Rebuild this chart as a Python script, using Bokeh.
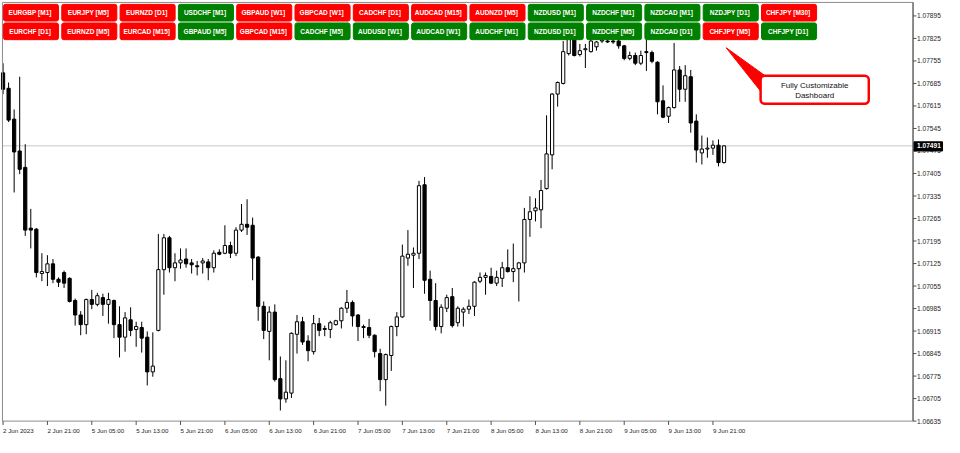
from bokeh.plotting import figure
from bokeh.models import Range1d, ColumnDataSource
from bokeh.core.properties import value
from bokeh.embed import file_html
from bokeh.resources import INLINE

# ---------------- data (hourly candles) ----------------
open_ = [1.07718, 1.07670, 1.07574, 1.07475, 1.07424, 1.07235, 1.07232, 1.07094, 1.07097, 1.07124,
         1.07076, 1.07097, 1.07079, 1.07010, 1.06965, 1.06935, 1.07013, 1.06998, 1.07019, 1.06998,
         1.07010, 1.06935, 1.06896, 1.06950, 1.06920, 1.06926, 1.06896, 1.06788, 1.06917, 1.07106,
         1.07205, 1.07112, 1.07127, 1.07139, 1.07127, 1.07118, 1.07127, 1.07130, 1.07112, 1.07160,
         1.07157, 1.07181, 1.07157, 1.07229, 1.07247, 1.07244, 1.07145, 1.06992, 1.06914, 1.06974,
         1.06767, 1.06704, 1.06722, 1.06905, 1.06944, 1.06884, 1.06851, 1.06938, 1.06920, 1.06920,
         1.06935, 1.06947, 1.06986, 1.07004, 1.06965, 1.06929, 1.06926, 1.06902, 1.06845, 1.06764,
         1.06839, 1.06929, 1.06959, 1.07142, 1.07151, 1.07157, 1.07370, 1.07076, 1.07010, 1.06929,
         1.06986, 1.07022, 1.06941, 1.06974, 1.06983, 1.06992, 1.07070, 1.07082, 1.07085, 1.07064,
         1.07079, 1.07112, 1.07100, 1.07109, 1.07127, 1.07262, 1.07289, 1.07292, 1.07358, 1.07463,
         1.07652, 1.07685, 1.07778, 1.07823, 1.07775, 1.07790, 1.07784, 1.07799, 1.07817, 1.07817,
         1.07817, 1.07817, 1.07802, 1.07763, 1.07772, 1.07748, 1.07784, 1.07781, 1.07751, 1.07631,
         1.07583, 1.07610, 1.07727, 1.07667, 1.07706, 1.07568, 1.07469, 1.07481, 1.07484, 1.07493,
         1.07439]
high = [1.07748, 1.07688, 1.07604, 1.07706, 1.07496, 1.07295, 1.07235, 1.07157, 1.07151, 1.07139,
        1.07082, 1.07103, 1.07082, 1.07016, 1.06977, 1.07016, 1.07043, 1.07034, 1.07031, 1.07034,
        1.07013, 1.06992, 1.06974, 1.06989, 1.06944, 1.06944, 1.06914, 1.06911, 1.07217, 1.07217,
        1.07211, 1.07157, 1.07172, 1.07172, 1.07139, 1.07133, 1.07142, 1.07139, 1.07166, 1.07169,
        1.07244, 1.07193, 1.07238, 1.07310, 1.07325, 1.07268, 1.07148, 1.07007, 1.06992, 1.06998,
        1.06836, 1.06824, 1.06911, 1.06965, 1.06959, 1.06902, 1.06965, 1.06956, 1.06932, 1.06947,
        1.06950, 1.06989, 1.07043, 1.07010, 1.06968, 1.06935, 1.06953, 1.06905, 1.06860, 1.06845,
        1.06932, 1.06974, 1.07184, 1.07229, 1.07175, 1.07382, 1.07394, 1.07103, 1.07064, 1.06998,
        1.07028, 1.07049, 1.06992, 1.06989, 1.07013, 1.07070, 1.07097, 1.07097, 1.07112, 1.07103,
        1.07130, 1.07169, 1.07187, 1.07130, 1.07298, 1.07334, 1.07328, 1.07385, 1.07586, 1.07655,
        1.07691, 1.07817, 1.07844, 1.07835, 1.07808, 1.07808, 1.07832, 1.07817, 1.07835, 1.07829,
        1.07832, 1.07823, 1.07805, 1.07784, 1.07781, 1.07787, 1.07823, 1.07787, 1.07754, 1.07679,
        1.07613, 1.07811, 1.07739, 1.07742, 1.07727, 1.07589, 1.07523, 1.07517, 1.07508, 1.07511,
        1.07493]
low = [1.07652, 1.07565, 1.07346, 1.07403, 1.07211, 1.07172, 1.07082, 1.07070, 1.07055, 1.07064,
       1.07052, 1.07049, 1.07004, 1.06932, 1.06902, 1.06905, 1.06983, 1.06992, 1.06962, 1.06938,
       1.06893, 1.06833, 1.06851, 1.06899, 1.06866, 1.06848, 1.06746, 1.06773, 1.06914, 1.07028,
       1.07097, 1.07070, 1.07109, 1.07112, 1.07094, 1.07088, 1.07094, 1.07073, 1.07097, 1.07151,
       1.07154, 1.07142, 1.07148, 1.07223, 1.07214, 1.07073, 1.06947, 1.06890, 1.06824, 1.06758,
       1.06668, 1.06692, 1.06707, 1.06845, 1.06872, 1.06821, 1.06842, 1.06899, 1.06899, 1.06893,
       1.06932, 1.06923, 1.06971, 1.06929, 1.06884, 1.06893, 1.06893, 1.06833, 1.06728, 1.06683,
       1.06791, 1.06899, 1.06956, 1.07118, 1.07049, 1.07139, 1.07031, 1.06947, 1.06917, 1.06908,
       1.06974, 1.06926, 1.06929, 1.06929, 1.06968, 1.06962, 1.07064, 1.07028, 1.07061, 1.07055,
       1.07052, 1.07097, 1.07067, 1.07007, 1.07097, 1.07208, 1.07256, 1.07235, 1.07355, 1.07418,
       1.07613, 1.07682, 1.07772, 1.07769, 1.07769, 1.07733, 1.07781, 1.07787, 1.07811, 1.07811,
       1.07808, 1.07793, 1.07757, 1.07757, 1.07742, 1.07742, 1.07724, 1.07748, 1.07589, 1.07577,
       1.07562, 1.07607, 1.07628, 1.07628, 1.07532, 1.07439, 1.07433, 1.07454, 1.07463, 1.07427,
       1.07436]
close = [1.07667, 1.07571, 1.07472, 1.07418, 1.07229, 1.07229, 1.07097, 1.07100, 1.07124, 1.07076,
         1.07067, 1.07064, 1.07007, 1.06965, 1.06935, 1.07013, 1.06998, 1.07025, 1.06998, 1.07013,
         1.06935, 1.06896, 1.06956, 1.06917, 1.06929, 1.06893, 1.06788, 1.06806, 1.07106, 1.07205,
         1.07112, 1.07127, 1.07136, 1.07124, 1.07121, 1.07115, 1.07133, 1.07112, 1.07157, 1.07154,
         1.07181, 1.07157, 1.07229, 1.07247, 1.07238, 1.07142, 1.06992, 1.06917, 1.06974, 1.06764,
         1.06704, 1.06725, 1.06908, 1.06944, 1.06881, 1.06854, 1.06938, 1.06917, 1.06923, 1.06941,
         1.06947, 1.06986, 1.07004, 1.06962, 1.06929, 1.06926, 1.06902, 1.06851, 1.06764, 1.06842,
         1.06929, 1.06959, 1.07148, 1.07154, 1.07157, 1.07367, 1.07073, 1.07010, 1.06929, 1.06989,
         1.07019, 1.06932, 1.06986, 1.06983, 1.06992, 1.07067, 1.07082, 1.07088, 1.07064, 1.07082,
         1.07112, 1.07100, 1.07109, 1.07127, 1.07262, 1.07286, 1.07298, 1.07352, 1.07466, 1.07652,
         1.07688, 1.07784, 1.07829, 1.07772, 1.07787, 1.07793, 1.07817, 1.07814, 1.07820, 1.07814,
         1.07814, 1.07802, 1.07763, 1.07772, 1.07748, 1.07772, 1.07781, 1.07754, 1.07628, 1.07580,
         1.07610, 1.07727, 1.07667, 1.07709, 1.07562, 1.07478, 1.07481, 1.07484, 1.07493, 1.07439,
         1.07491]
bar_index = list(range(len(close)))

time_tick_index = [0, 8, 16, 24, 32, 40, 48, 56, 64, 72, 80, 88, 96, 104, 112, 120, 128]
time_tick_labels = ["2 Jun 2023", "2 Jun 21:00", "5 Jun 05:00", "5 Jun 13:00", "5 Jun 21:00",
                    "6 Jun 05:00", "6 Jun 13:00", "6 Jun 21:00", "7 Jun 05:00", "7 Jun 13:00",
                    "7 Jun 21:00", "8 Jun 05:00", "8 Jun 13:00", "8 Jun 21:00", "9 Jun 05:00",
                    "9 Jun 13:00", "9 Jun 21:00"]
price_ticks = [1.06635, 1.06705, 1.06775, 1.06845, 1.06915, 1.06985, 1.07055, 1.07125, 1.07195,
               1.07265, 1.07335, 1.07405, 1.07475, 1.07545, 1.07615, 1.07685, 1.07755, 1.07825,
               1.07895]
last_price = 1.07491

row1_buttons = ["EURGBP  [M1]", "EURJPY  [M5]", "EURNZD  [D1]", "USDCHF  [M1]", "GBPAUD  [W1]",
                "GBPCAD  [W1]", "CADCHF  [D1]", "AUDCAD  [M15]", "AUDNZD  [M5]", "NZDUSD  [M1]",
                "NZDCHF  [M1]", "NZDCAD  [M1]", "NZDJPY  [D1]", "CHFJPY  [M30]"]
row1_state = ["down", "down", "down", "up", "down", "down", "down", "down", "down", "up",
              "up", "up", "up", "down"]
row2_buttons = ["EURCHF  [D1]", "EURNZD  [M5]", "EURCAD  [M15]", "GBPAUD  [M5]", "GBPCAD  [M15]",
                "CADCHF  [M5]", "AUDUSD  [W1]", "AUDCAD  [W1]", "AUDCHF  [M1]", "NZDUSD  [D1]",
                "NZDCHF  [M5]", "NZDCAD  [D1]", "CHFJPY  [M5]", "CHFJPY  [D1]"]
row2_state = ["down", "down", "down", "up", "down", "up", "up", "up", "up", "up",
              "up", "up", "down", "up"]
callout_lines = ["Fully Customizable", "Dashboard"]

# ---------------- figure: the whole terminal window is one frame ----------------
XR0, XR1 = -0.461, 169.752      # bar-index span of the full window width
YR0, YR1 = 1.06584, 1.07943     # price span of the full window height
W, H = 944, 437
REF_W, REF_H = 960.0, 453.0

p = figure(width=W, height=H, output_backend="svg", toolbar_location=None,
           x_range=Range1d(XR0, XR1), y_range=Range1d(YR0, YR1),
           x_axis_location=None, y_axis_location=None,
           min_border_left=0, min_border_right=0, min_border_top=0, min_border_bottom=0,
           background_fill_color="white", border_fill_color="white")
p.outline_line_color = None
p.xgrid.visible = False
p.ygrid.visible = False


# layout helpers: a position in window pixels -> plot coordinates
def rx(px):
    return XR0 + px * (XR1 - XR0) / REF_W


def ry(py):
    return YR1 - py * (YR1 - YR0) / REF_H


PL, PR, PT, PB = 2, 928, 2, 436   # chart area edges in window pixels
AXIS = "#505050"
TXT = "#1e1e1e"
FONT = value("Liberation Sans")

# last price line
p.segment(x0=[rx(PL)], y0=[last_price], x1=[rx(PR)], y1=[last_price],
          line_color="#c8c8c8", line_width=1)

# candles
bull = [c >= o for o, c in zip(open_, close)]
src_up = ColumnDataSource(dict(
    x=[i for i, b in zip(bar_index, bull) if b],
    top=[c for c, b in zip(close, bull) if b],
    bottom=[o for o, b in zip(open_, bull) if b]))
src_dn = ColumnDataSource(dict(
    x=[i for i, b in zip(bar_index, bull) if not b],
    top=[o for o, b in zip(open_, bull) if not b],
    bottom=[c for c, b in zip(close, bull) if not b]))

p.segment(x0=bar_index, y0=low, x1=bar_index, y1=high, line_color="black", line_width=1)
p.vbar(x="x", top="top", bottom="bottom", width=0.58, source=src_up,
       fill_color="white", line_color="black", line_width=1)
p.vbar(x="x", top="top", bottom="bottom", width=0.58, source=src_dn,
       fill_color="black", line_color="black", line_width=1)

# chart frame: left / top / bottom borders and the price scale line
p.quad(left=[rx(PL)], right=[rx(PR)], top=[ry(PT)], bottom=[ry(PB)],
       fill_color=None, line_color="#8c8c8c", line_width=1)
p.segment(x0=[rx(PR)], y0=[ry(PT)], x1=[rx(PR)], y1=[ry(PB)], line_color=AXIS, line_width=1)

# price scale ticks and labels
p.segment(x0=[rx(PR)] * len(price_ticks), y0=price_ticks,
          x1=[rx(PR + 3.5)] * len(price_ticks), y1=price_ticks, line_color=AXIS, line_width=1)
p.text(x=[rx(PR + 4)] * len(price_ticks), y=price_ticks,
       text=[f"{v:.5f}" for v in price_ticks], text_font=FONT, text_font_size="6.6px",
       text_color=TXT, text_align="left", text_baseline="middle")

# time scale ticks and labels (left-aligned at their tick)
p.segment(x0=time_tick_index, y0=[ry(PB)] * len(time_tick_index),
          x1=time_tick_index, y1=[ry(PB + 4)] * len(time_tick_index),
          line_color=AXIS, line_width=1)
p.text(x=time_tick_index, y=[ry(PB + 6)] * len(time_tick_index), text=time_tick_labels,
       text_font=FONT, text_font_size="6.2px", text_color=TXT,
       text_align="left", text_baseline="top")

# current price tag on the price scale
p.quad(left=[rx(PR + 1)], right=[rx(PR + 30)], top=[ry(146.5)], bottom=[ry(156)],
       fill_color="black", line_color="black")
p.text(x=[rx(PR + 4)], y=[last_price], text=[f"{last_price:.5f}"], text_font=FONT,
       text_font_size="6.6px", text_font_style="bold", text_color="white",
       text_align="left", text_baseline="middle")

# dashboard buttons
state_color = {"up": "#008000", "down": "#ff0000"}
bl, br, bt, bb, bc, bx, by, btxt = [], [], [], [], [], [], [], []
for r, (names, states) in enumerate([(row1_buttons, row1_state), (row2_buttons, row2_state)]):
    top_px = 4 + 19.3 * r
    for k, (nm, st) in enumerate(zip(names, states)):
        left_px = 3 + 59.3 * k
        bl.append(rx(left_px))
        br.append(rx(left_px + 56))
        bt.append(ry(top_px))
        bb.append(ry(top_px + 17.3))
        bc.append(state_color[st])
        bx.append(rx(left_px + 28))
        by.append(ry(top_px + 8.8))
        btxt.append(nm)

p.quad(left=bl, right=br, top=bt, bottom=bb, fill_color=bc, line_color=bc, border_radius=2)
p.text(x=bx, y=by, text=btxt, text_font=FONT, text_font_style="bold",
       text_font_size="6.5px", text_color="white", text_align="center", text_baseline="middle")

# callout
p.patch(x=[rx(738), rx(779), rx(773)], y=[ry(49), ry(79), ry(94)],
        fill_color="#ff0000", line_color="#ff0000", line_width=1)
p.quad(left=[rx(773)], right=[rx(883)], top=[ry(78)], bottom=[ry(107)],
       fill_color="white", line_color="#ff0000", line_width=2.5, border_radius=4)
p.text(x=[rx(828), rx(828)], y=[ry(88), ry(98)], text=callout_lines,
       text_font=FONT, text_font_size="8px", text_color="#111111",
       text_align="center", text_baseline="middle")

open("out.html", "w").write(file_html(p, INLINE))
